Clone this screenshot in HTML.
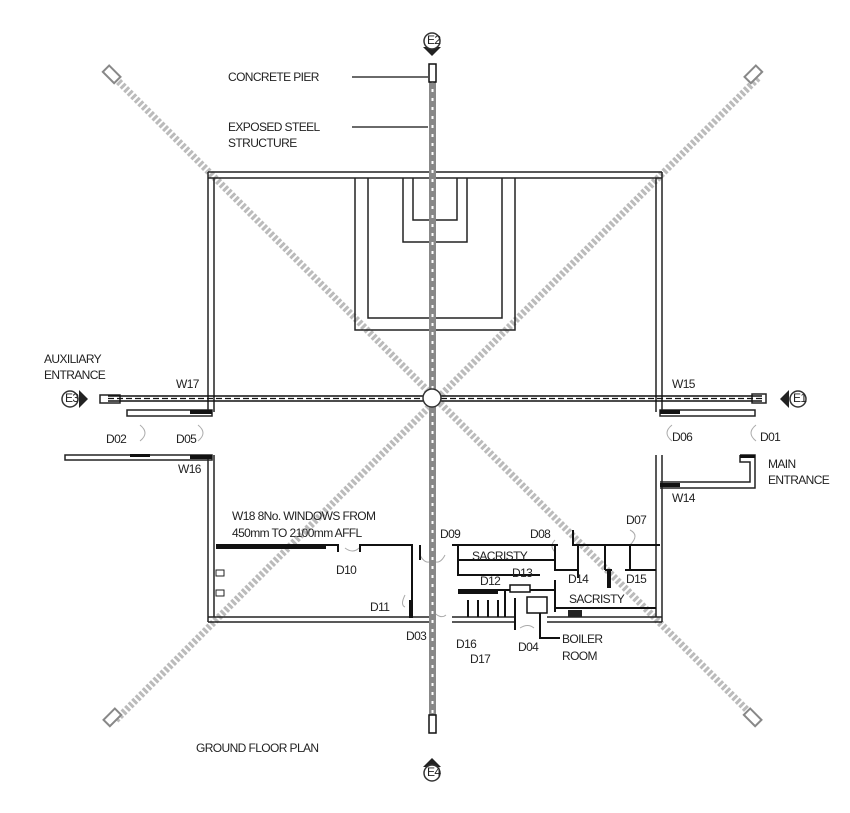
<!DOCTYPE html>
<html><head><meta charset="utf-8"><style>
html,body{margin:0;padding:0;background:#fff;}
svg{display:block}
text{font-family:"Liberation Sans",sans-serif;font-size:12px;fill:#222;letter-spacing:-0.6px}
</style></head><body>
<svg width="850" height="813" viewBox="0 0 850 813" xmlns="http://www.w3.org/2000/svg">
<!-- diagonals -->
<g stroke="#bbb" stroke-width="7" stroke-dasharray="3 2">
<line x1="115" y1="78" x2="758" y2="721"/>
<line x1="758" y1="78" x2="115" y2="721"/>
</g>
<g fill="#fff" stroke="#888" stroke-width="2">
<rect x="104" y="70" width="16" height="9" transform="rotate(45 112 74)"/>
<rect x="745" y="70" width="16" height="9" transform="rotate(-45 753 74)"/>
<rect x="104" y="713" width="16" height="9" transform="rotate(-45 112 717)"/>
<rect x="745" y="713" width="16" height="9" transform="rotate(45 753 717)"/>
</g>
<!-- building walls -->
<g fill="none" stroke="#222" stroke-width="1.5">
<path d="M208 172 H662 M208 178 H662"/>
<path d="M208 172 V412 M214 178 V412"/>
<path d="M208 455 V622 M214 455 V617"/>
<path d="M662 172 V412 M656 178 V412"/>
<path d="M662 455 V622 M656 455 V617"/>
<path d="M208 617 H430 M208 622 H430"/>
<path d="M452 617 H515 M452 622 H515 M547 617 H662 M547 622 H662"/>
<path d="M355 178 V330 H515 V178 M368 178 V318 H502 V178"/>
<path d="M403 178 V242 H467 V178 M413 178 V220 H457 V178"/>
</g>
<!-- entrances -->
<g fill="none" stroke="#222" stroke-width="1.5">
<rect x="127" y="410" width="85" height="6"/>
<rect x="65" y="455" width="147" height="5"/>
<rect x="100" y="395" width="20" height="8"/>
<rect x="752" y="394" width="14" height="9"/>
<rect x="660" y="410" width="95" height="6"/>
<path d="M740 455 H755 V488 H660 M740 455 V462 H750 V482 H660"/>
</g>
<g fill="#111">
<rect x="190" y="410" width="22" height="4"/><rect x="130" y="454" width="20" height="3"/><rect x="190" y="455" width="22" height="4"/>
<rect x="660" y="410" width="20" height="4"/><rect x="660" y="483" width="20" height="4"/><rect x="740" y="455" width="15" height="3"/>
</g>
<!-- door arcs -->
<g fill="none" stroke="#aaa" stroke-width="1">
<path d="M140 425 q10 8 0 16 M198 425 q10 8 0 16 M672 425 q-10 8 0 16 M756 425 q-10 8 0 16"/>
<path d="M345 548 q8 6 14 0 M420 555 q5 10 12 6 M405 595 q-5 10 0 12 M445 555 q-5 10 -12 6 M432 610 q8 10 14 5 M520 628 q8 -5 14 0 M630 530 q10 5 0 15 M555 540 q-6 6 0 12"/>
</g>
<!-- lower rooms -->
<g fill="none" stroke="#111" stroke-width="2">
<path d="M216 545 H338 V552 M360 552 V545 H412 V618"/>
<path d="M420 545 V560"/>
<path d="M410 600 V618"/>
<path d="M452 545 H558 M458 545 V575 H540 M458 560 H555 M555 545 V570 H578"/>
<path d="M573 530 V545 H660 M578 545 V578 M605 545 V570 M630 545 V570 M605 570 H612 M625 570 H656"/>
<path d="M458 590 H555 M505 590 V617 M555 580 V612 M555 608 H656"/>
<path d="M468 600 V617 M478 600 V617 M488 600 V617 M498 600 V617"/>
<path d="M515 598 V630 M540 598 V620 M540 615 V638 H560"/>
</g>
<rect x="458" y="589" width="40" height="5" fill="#111"/>
<rect x="510" y="585" width="20" height="7" fill="#fff" stroke="#111" stroke-width="1.5"/>
<rect x="527" y="597" width="20" height="16" fill="#fff" stroke="#111" stroke-width="1.5"/>
<rect x="568" y="610" width="14" height="7" fill="#222"/>
<rect x="607" y="570" width="4" height="18" fill="#111"/>
<rect x="216" y="545" width="110" height="4" fill="#111"/>
<g fill="#fff" stroke="#222"><rect x="216" y="570" width="8" height="6"/><rect x="216" y="590" width="8" height="6"/></g>
<!-- horizontal axis -->
<g stroke="#111" stroke-width="1.5"><line x1="108" y1="396" x2="423" y2="396"/><line x1="108" y1="401" x2="423" y2="401"/><line x1="441" y1="396" x2="762" y2="396"/><line x1="441" y1="401" x2="762" y2="401"/></g>
<g stroke="#111" stroke-width="1.2" stroke-dasharray="6 3"><line x1="108" y1="398.5" x2="423" y2="398.5"/><line x1="441" y1="398.5" x2="762" y2="398.5"/></g>
<!-- vertical column -->
<rect x="429" y="80" width="7" height="640" fill="#888"/>
<line x1="432.5" y1="80" x2="432.5" y2="720" stroke="#fff" stroke-width="2" stroke-dasharray="3 6"/>
<rect x="429" y="64" width="7" height="18" fill="#fff" stroke="#111" stroke-width="1.5"/>
<rect x="429" y="715" width="7" height="18" fill="#fff" stroke="#111" stroke-width="1.5"/>
<circle cx="432" cy="398" r="9" fill="#fff" stroke="#333" stroke-width="1.5"/>
<!-- leaders -->
<g stroke="#111" stroke-width="1.2"><line x1="352" y1="77" x2="428" y2="77"/><line x1="352" y1="127" x2="428" y2="127"/></g>
<!-- elevation markers -->
<g fill="#222">
<path d="M423 47 L441 47 L432 56Z"/><path d="M79 390 L79 408 L88 399Z"/><path d="M789 390 L789 408 L780 399Z"/><path d="M423 767 L441 767 L432 758Z"/>
</g>
<g fill="#fff" stroke="#333" stroke-width="1.5">
<circle cx="432" cy="41" r="8"/><circle cx="70" cy="399" r="8"/><circle cx="798" cy="399" r="8"/><circle cx="432" cy="773" r="8"/>
</g>
<g style="font-size:7px">
<text x="427" y="44">E2</text><text x="65" y="402">E3</text><text x="793" y="402">E1</text><text x="427" y="776">E4</text>
</g>
<!-- labels -->
<text x="228" y="81">CONCRETE PIER</text>
<text x="228" y="131">EXPOSED STEEL</text><text x="228" y="147">STRUCTURE</text>
<text x="44" y="363">AUXILIARY</text><text x="44" y="379">ENTRANCE</text>
<text x="176" y="388">W17</text><text x="672" y="388">W15</text>
<text x="106" y="443">D02</text><text x="176" y="443">D05</text>
<text x="672" y="441">D06</text><text x="760" y="441">D01</text>
<text x="178" y="473">W16</text><text x="672" y="502">W14</text>
<text x="768" y="468">MAIN</text><text x="768" y="484">ENTRANCE</text>
<text x="232" y="520">W18 8No. WINDOWS FROM</text><text x="232" y="537">450mm TO 2100mm AFFL</text>
<text x="440" y="538">D09</text><text x="530" y="538">D08</text><text x="626" y="524">D07</text>
<text x="472" y="560">SACRISTY</text>
<text x="336" y="574">D10</text><text x="512" y="577">D13</text><text x="480" y="585">D12</text>
<text x="568" y="583">D14</text><text x="626" y="583">D15</text>
<text x="569" y="603">SACRISTY</text>
<text x="370" y="611">D11</text>
<text x="406" y="640">D03</text><text x="456" y="648">D16</text><text x="470" y="663">D17</text>
<text x="518" y="651">D04</text>
<text x="562" y="643">BOILER</text><text x="562" y="660">ROOM</text>
<text x="196" y="752">GROUND FLOOR PLAN</text>
</svg>
</body></html>
